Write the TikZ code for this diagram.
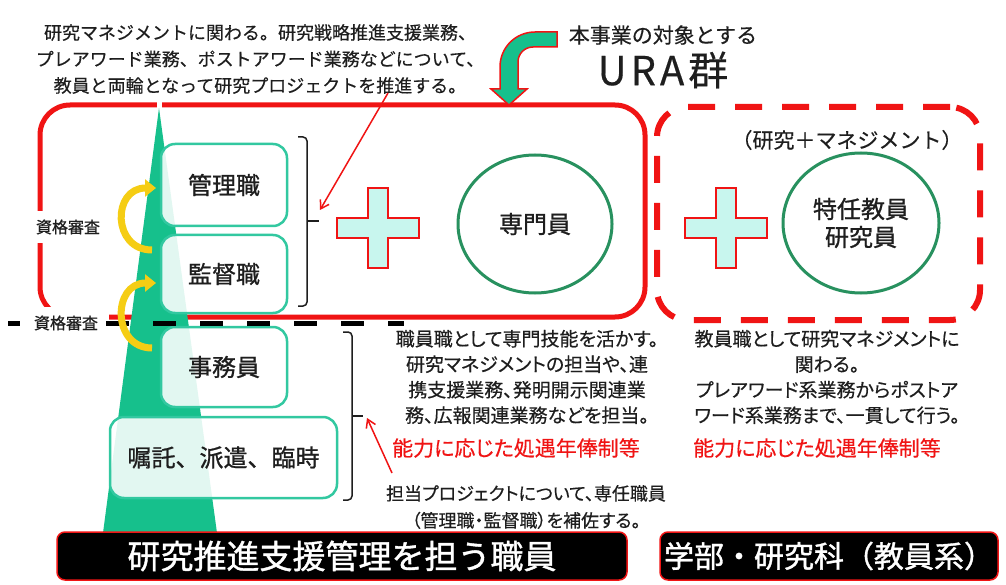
\documentclass[tikz,border=0pt]{standalone}
\usepackage{fontspec}
\setmainfont{Noto Sans CJK JP}[FakeBold=0.4]
\newfontfamily\pfont[RawFeature=+palt,FakeBold=0.4]{Noto Sans CJK JP}
\newfontfamily\heavyfont[FakeBold=0.9]{Noto Sans CJK JP}
\newfontfamily\barfont[FakeBold=1.2]{Noto Sans CJK JP}
\usetikzlibrary{arrows.meta,shapes.geometric}
\definecolor{ured}{RGB}{240,20,20}
\definecolor{tgreen}{RGB}{22,192,140}
\definecolor{boxgreen}{RGB}{50,200,160}
\definecolor{cgreen}{RGB}{40,145,95}
\definecolor{crossfill}{RGB}{200,246,238}
\definecolor{gold}{RGB}{245,205,20}
\definecolor{txt}{RGB}{30,30,30}
\newcommand{\fs}[2]{\fontsize{#1}{#2}\selectfont}
\begin{document}
\begin{tikzpicture}[x=1pt,y=-1pt,
  ura/.style={draw=ured,line width=5pt,rounded corners=30pt,inner sep=0pt},
  faculty/.style={draw=ured,line width=6pt,dash pattern=on 27pt off 20pt,rounded corners=30pt,inner sep=0pt},
  rankbox/.style={draw=boxgreen,line width=2.5pt,fill=white,fill opacity=0.88,text opacity=1,rounded corners=14pt,inner sep=0pt,font=\heavyfont\fs{24}{28},text=txt},
  role/.style={ellipse,draw=cgreen,line width=3pt,fill=white,inner sep=0pt,font=\heavyfont\fs{24}{28},text=txt,align=center},
  lbl/.style={fill=white,inner xsep=3pt,inner ysep=9pt,font=\heavyfont\fs{16}{18},text=txt},
  note/.style={align=center,text=txt,inner sep=0pt},
  rednote/.style={text=ured,inner sep=0pt,font=\pfont\fs{21}{24}},
  bracket/.style={draw=txt,line width=1.5pt,rounded corners=4pt},
  redarrow/.style={draw=ured,line width=1.5pt,-{Straight Barb[length=8pt,width=10pt]}},
  rise/.style={draw=gold,line width=7pt,-{Triangle[width=17pt,length=11pt]}},
  bar/.style={fill=black,draw=ured,line width=1.5pt,rounded corners=8pt,text=white,inner sep=0pt},
  blackdash/.style={draw=black,line width=5pt},
  plusmark/.pic={\draw[draw=ured,line width=2pt,fill=crossfill]
     (-10,-40) -- (10,-40) -- (10,-10) -- (41,-10) -- (41,10) -- (10,10) -- (10,40)
     -- (-10,40) -- (-10,10) -- (-41,10) -- (-41,-10) -- (-10,-10) -- cycle;}
]
\useasboundingbox (0,0) rectangle (1006,585);
\fill[white] (0,0) rectangle (1006,585);

% group frames
\node[ura,minimum width=605pt,minimum height=212pt] (ura) at (342.5,211) {};
\node[faculty,minimum width=323pt,minimum height=213pt] (fac) at (818.5,213.5) {};
\draw[white,line width=5pt] (159,100) -- (159,110);

% green pyramid
\fill[tgreen] (159,108) -- (217,533) -- (103,533) -- cycle;

% rank boxes
\node[rankbox,minimum width=126pt,minimum height=82pt] (kanri) at (224,185) {管理職};
\node[rankbox,minimum width=126pt,minimum height=78pt] (kantoku) at (224,274) {監督職};
\node[rankbox,minimum width=126pt,minimum height=80pt] (jimu) at (224,367) {事務員};
\node[rankbox,minimum width=227pt,minimum height=81pt] (shokutaku) at (223.5,457.5) {嘱託、派遣、臨時};

% qualification labels
\node[lbl] (q1) at (68,227) {資格審査};
\node[lbl,minimum width=86pt] (q2) at (66,323) {資格審査};

% black dashed line
\coordinate (d0) at (8,323);
\coordinate (d1) at (20,323);
\coordinate (d2) at (106,323);
\coordinate (d3) at (404,323);
\draw[blackdash] (d0) -- (d1);
\draw[blackdash,dash pattern=on 23pt off 24pt] (d2) -- (d3);

% yellow promotion arrows
\coordinate (y1s) at (152,250);
\coordinate (y1e) at (156,188);
\coordinate (y2s) at (152,348);
\coordinate (y2e) at (156,283);
\draw[rise] (y1s) .. controls (112,250) and (112,188) .. (y1e);
\draw[rise] (y2s) .. controls (112,348) and (112,283) .. (y2e);

% brackets
\coordinate (b1tip) at (319,221);
\draw[bracket] (298,137) -| (307,221) |- (298,306);
\draw[draw=txt,line width=1.5pt] (307,221) -- (b1tip);
\coordinate (b2tip) at (363,416);
\draw[bracket] (343,332) -| (352,416) |- (343,500);
\draw[draw=txt,line width=1.5pt] (352,416) -- (b2tip);

% crosses and circles
\pic (plusA) at (378,228) {plusmark};
\pic (plusB) at (726,228) {plusmark};
\node[role,minimum width=154pt,minimum height=138pt] (senmon) at (535,224) {専門員};
\node[role,minimum width=156pt,minimum height=140pt] (tokunin) at (861,223) {特任教員\\研究員};

% green bent arrow
\path[fill=tgreen,draw=ured,line width=1.5pt] (557,32) -- (535,32)
  .. controls (515.7,32) and (500,47.3) .. (500,67) -- (500,89) -- (491,89)
  -- (509,105) -- (527,89) -- (518,89) -- (518,62)
  .. controls (518,53.7) and (524.7,47) .. (533,47) -- (557,47) -- cycle;

% top texts
\node[note,font=\fs{18}{26.5}] (topnote) at (260,59) {研究マネジメントに関わる。研究戦略推進支援業務、\\プレアワード業務、ポストアワード業務などについて、\\教員と両輪となって研究プロジェクトを推進する。};
\node[note,font=\fs{21}{24}] (target) at (663,35) {本事業の対象とする};
\node[note,font=\fs{40}{44}] (uratitle) at (663,70) {U\kern4pt R\kern4pt A\kern4pt 群};
\node[note,font=\fs{21}{24}] (kenkyu) at (847,140) {（研究＋マネジメント）};

% red annotation arrows
\coordinate (a1s) at (388,93);
\coordinate (a1e) at (320,210);
\draw[redarrow] (a1s) -- (a1e);
\coordinate (a2s) at (392,473);
\coordinate (a2e) at (367,418);
\draw[redarrow] (a2s) -- (a2e);

% lower texts
\node[note,font=\pfont\fs{19}{25.5}] (staffnote) at (527,377) {職員職として専門技能を活かす。\\研究マネジメントの担当や、連\\携支援業務、発明開示関連業\\務、広報関連業務などを担当。};
\node[note,font=\pfont\fs{19}{25.5}] (facnote) at (827,377) {教員職として研究マネジメントに\\関わる。\\プレアワード系業務からポストア\\ワード系業務まで、一貫して行う。};
\node[rednote] (payA) at (516,448) {能力に応じた処遇年俸制等};
\node[rednote] (payB) at (817,448) {能力に応じた処遇年俸制等};
\node[note,font=\pfont\fs{18}{27}] (assist) at (526,507) {担当プロジェクトについて、専任職員\\（管理職・監督職）を補佐する。};

% bottom bars
\node[bar,minimum width=570pt,minimum height=48pt,font=\barfont\fs{33}{36}] (barA) at (342,556) {研究推進支援管理を担う職員};
\node[bar,minimum width=338pt,minimum height=48pt,font=\barfont\fs{30}{34}] (barB) at (829,556) {学部・研究科（教員系）};
\end{tikzpicture}
\end{document}
